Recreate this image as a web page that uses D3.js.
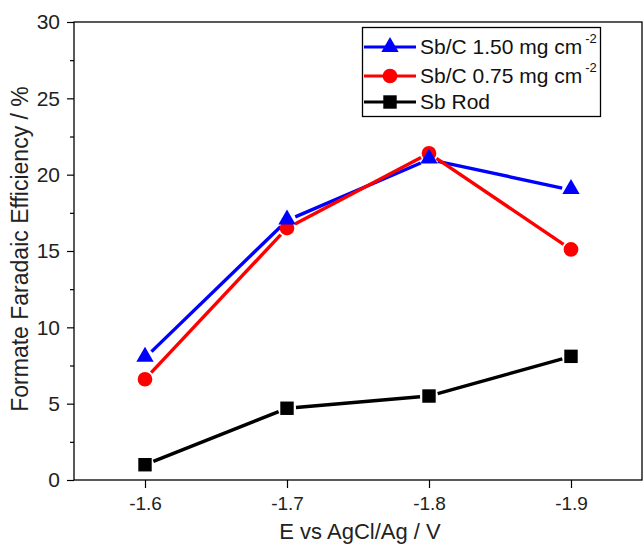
<!DOCTYPE html>
<html>
<head>
<meta charset="utf-8">
<script src="https://cdnjs.cloudflare.com/ajax/libs/d3/7.8.5/d3.min.js"></script>
<style>
  body { margin: 0; background: #fff; }
  svg { display: block; font-family: "Liberation Sans", Arial, sans-serif; }
</style>
</head>
<body>
<svg width="643" height="552"></svg>
<script>
var potentials = [-1.6, -1.7, -1.8, -1.9];
var sbC150 = [8.0, 17.0, 21.0, 19.0];
var sbC075 = [6.6, 16.5, 21.4, 15.1];
var sbRod = [1.0, 4.7, 5.5, 8.1];
var yTicks = [0, 5, 10, 15, 20, 25, 30];
var yMinor = [2.5, 7.5, 12.5, 17.5, 22.5, 27.5];

var series = [
  { name: "Sb/C 1.50 mg cm", sup: "-2", values: sbC150, color: "#0000ff", shape: "triangle" },
  { name: "Sb/C 0.75 mg cm", sup: "-2", values: sbC075, color: "#ff0000", shape: "circle" },
  { name: "Sb Rod", sup: null, values: sbRod, color: "#000000", shape: "square" }
];

var svg = d3.select("svg");
var plotLeft = 74, plotRight = 642, plotTop = 22, plotBottom = 480;

var x = d3.scaleLinear().domain([-1.55, -1.95]).range([plotLeft, plotRight]);
var y = d3.scaleLinear().domain([0, 30]).range([plotBottom, plotTop]);

// frame
svg.append("rect")
  .attr("x", plotLeft).attr("y", plotTop)
  .attr("width", plotRight - plotLeft).attr("height", plotBottom - plotTop)
  .attr("fill", "none").attr("stroke", "#000").attr("stroke-width", 1.3);

// y axis
var yAxis = svg.append("g")
  .attr("transform", "translate(" + plotLeft + ",0)")
  .call(d3.axisLeft(y).tickValues(yTicks).tickSize(7).tickPadding(7).tickFormat(d3.format("d")));
yAxis.select(".domain").remove();
yAxis.selectAll("text").attr("font-size", 21).attr("fill", "#222").attr("font-family", "Liberation Sans, Arial, sans-serif");
yAxis.selectAll("line").attr("stroke-width", 1.2);
svg.append("g")
  .attr("transform", "translate(" + plotLeft + ",0)")
  .call(d3.axisLeft(y).tickValues(yMinor).tickSize(4).tickFormat(""))
  .call(function (g) { g.select(".domain").remove(); })
  .selectAll("line").attr("stroke-width", 1.2);

// x axis
var xAxis = svg.append("g")
  .attr("transform", "translate(0," + plotBottom + ")")
  .call(d3.axisBottom(x).tickValues(potentials).tickSize(8).tickPadding(9)
    .tickFormat(function (d) { return d.toFixed(1); }));
xAxis.select(".domain").remove();
xAxis.selectAll("text").attr("font-size", 19).attr("fill", "#222").attr("font-family", "Liberation Sans, Arial, sans-serif");
xAxis.selectAll("line").attr("stroke-width", 1.2);

// axis titles
svg.append("text")
  .attr("x", 360).attr("y", 539)
  .attr("text-anchor", "middle")
  .attr("font-size", 22).attr("fill", "#222")
  .text("E vs AgCl/Ag / V");
svg.append("text")
  .attr("transform", "translate(28,249) rotate(-90)")
  .attr("text-anchor", "middle")
  .attr("font-size", 23).attr("fill", "#222")
  .text("Formate Faradaic Efficiency / %");

function symbolFor(shape) {
  if (shape === "triangle") return d3.symbol().type(d3.symbolTriangle).size(130);
  if (shape === "circle") return d3.symbol().type(d3.symbolCircle).size(170);
  return d3.symbol().type(d3.symbolSquare).size(180);
}

// lines with small gaps near markers
var gap = 9;
series.forEach(function (s) {
  var pts = s.values.map(function (v, i) { return [x(potentials[i]), y(v)]; });
  var g = svg.append("g");
  for (var i = 0; i < pts.length - 1; i++) {
    var a = pts[i], b = pts[i + 1];
    var dx = b[0] - a[0], dy = b[1] - a[1];
    var len = Math.sqrt(dx * dx + dy * dy);
    var ux = dx / len, uy = dy / len;
    g.append("line")
      .attr("x1", a[0] + ux * gap).attr("y1", a[1] + uy * gap)
      .attr("x2", b[0] - ux * gap).attr("y2", b[1] - uy * gap)
      .attr("stroke", s.color).attr("stroke-width", 3.4);
  }
});

// markers (draw red, black, then blue on top)
[series[1], series[2], series[0]].forEach(function (s) {
  svg.append("g").selectAll("path")
    .data(s.values)
    .enter()
    .append("path")
    .attr("d", symbolFor(s.shape))
    .attr("transform", function (d, i) {
      var dy = s.shape === "triangle" ? -1 : 0;
      return "translate(" + x(potentials[i]) + "," + (y(d) + dy) + ")";
    })
    .attr("fill", s.color);
});

// legend
var legend = svg.append("g");
legend.append("rect")
  .attr("x", 362.5).attr("y", 27.5).attr("width", 238).attr("height", 89)
  .attr("fill", "#fff").attr("stroke", "#000").attr("stroke-width", 1.3);
var rowY = [47, 76, 102];
series.forEach(function (s, i) {
  legend.append("line")
    .attr("x1", 364).attr("x2", 416).attr("y1", rowY[i]).attr("y2", rowY[i])
    .attr("stroke", s.color).attr("stroke-width", 3.2);
  legend.append("path")
    .attr("d", symbolFor(s.shape))
    .attr("transform", "translate(390," + rowY[i] + ")")
    .attr("fill", s.color);
  var t = legend.append("text")
    .attr("x", 420).attr("y", rowY[i] + 7)
    .attr("font-size", 21).attr("fill", "#111")
    .text(s.name);
  if (s.sup) {
    t.append("tspan").attr("dy", -11).attr("dx", 3).attr("font-size", 13).text(s.sup);
  }
});
</script>
</body>
</html>
